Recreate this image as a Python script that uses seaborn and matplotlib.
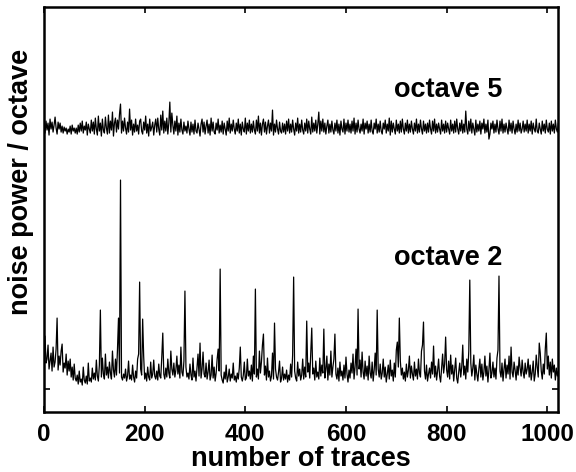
import numpy as np
import pandas as pd
import matplotlib
matplotlib.use("Agg")
import matplotlib.pyplot as plt
import seaborn as sns

# noise power per octave, one value every 2 traces
octave2 = [
    34, 53, 26, 30, 44, 20, 28, 36, 18, 42, 22, 27, 40, 71, 19, 33,
    24, 38, 45, 17, 26, 21, 35, 14, 28, 18, 30, 12, 22, 9, 25, 11,
    8, 14, 5, 18, 7, 10, 4, 22, 9, 6, 13, 5, 26, 8, 11, 7,
    21, 10, 16, 9, 29, 13, 8, 24, 79, 12, 31, 15, 10, 35, 14, 22,
    11, 27, 16, 10, 38, 19, 12, 30, 14, 40, 71, 16, 209, 12, 9, 15,
    11, 20, 8, 13, 28, 10, 14, 9, 24, 12, 7, 18, 11, 30, 35, 107,
    20, 14, 70, 33, 10, 16, 8, 22, 12, 9, 27, 11, 15, 29, 13, 10,
    18, 9, 25, 13, 11, 32, 56, 15, 10, 21, 12, 30, 16, 11, 38, 20,
    14, 26, 12, 19, 33, 15, 24, 11, 42, 17, 13, 28, 98, 22, 12, 16,
    10, 25, 14, 9, 31, 12, 18, 8, 22, 35, 13, 46, 11, 20, 37, 15,
    12, 26, 10, 17, 29, 9, 14, 34, 11, 22, 8, 16, 30, 40, 18, 120,
    14, 9, 6, 17, 10, 24, 7, 12, 20, 8, 15, 11, 26, 9, 13, 7,
    16, 10, 21, 42, 12, 8, 14, 27, 9, 11, 30, 13, 18, 10, 24, 8,
    33, 15, 100, 12, 20, 10, 38, 16, 27, 44, 55, 14, 23, 9, 31, 12,
    18, 8, 13, 36, 10, 66, 20, 12, 9, 17, 28, 7, 11, 22, 9, 15,
    10, 19, 7, 14, 9, 25, 12, 34, 112, 18, 11, 8, 27, 13, 20, 9,
    14, 30, 10, 22, 12, 68, 17, 26, 11, 35, 61, 15, 21, 9, 28, 12,
    17, 10, 31, 13, 24, 16, 60, 11, 20, 33, 9, 25, 14, 38, 12, 22,
    30, 55, 15, 10, 21, 8, 27, 13, 18, 9, 24, 11, 32, 15, 7, 19,
    11, 26, 16, 35, 10, 22, 40, 14, 80, 20, 29, 12, 37, 17, 10, 28,
    13, 23, 9, 33, 16, 11, 27, 8, 19, 36, 14, 79, 20, 12, 25, 10,
    16, 30, 12, 22, 7, 15, 24, 10, 29, 13, 19, 8, 26, 12, 39, 47,
    22, 71, 28, 14, 21, 10, 17, 8, 25, 12, 19, 33, 11, 23, 15, 9,
    27, 13, 20, 10, 30, 16, 12, 38, 44, 67, 18, 10, 24, 8, 15, 21,
    11, 27, 15, 43, 12, 23, 9, 18, 30, 13, 7, 21, 35, 16, 25, 52,
    19, 12, 28, 10, 34, 15, 24, 8, 19, 31, 11, 6, 17, 26, 12, 22,
    44, 14, 23, 10, 30, 17, 38, 109, 26, 13, 21, 34, 9, 24, 15, 8,
    20, 30, 12, 25, 9, 17, 33, 13, 23, 7, 19, 36, 11, 16, 27, 12,
    21, 10, 31, 39, 113, 18, 12, 26, 8, 20, 30, 11, 24, 15, 33, 10,
    42, 17, 12, 27, 19, 9, 23, 14, 32, 21, 13, 29, 17, 11, 26, 15,
    20, 30, 12, 24, 9, 17, 28, 8, 15, 34, 22, 12, 46, 36, 18, 10,
    25, 15, 40, 56, 20, 33, 14, 27, 11, 30, 17, 24, 9, 21, 13, 18,
]

octave5 = [
    263, 256, 268, 259, 266, 254, 270, 260, 267, 257, 264, 272, 261, 255, 267, 260,
    266, 257, 263, 256, 262, 258, 261, 255, 260, 257, 263, 255, 264, 258, 261, 256,
    261, 255, 264, 257, 266, 258, 268, 256, 263, 259, 267, 254, 265, 260, 256, 269,
    258, 267, 255, 271, 260, 254, 273, 258, 266, 253, 270, 259, 256, 272, 261, 255,
    274, 256, 268, 259, 277, 253, 266, 271, 257, 269, 260, 275, 285, 256, 268, 258,
    271, 261, 255, 267, 257, 280, 259, 269, 254, 265, 257, 270, 258, 264, 255, 268,
    270, 258, 255, 267, 259, 273, 256, 265, 253, 270, 258, 262, 267, 254, 264, 270,
    257, 271, 260, 254, 274, 259, 278, 256, 268, 258, 271, 255, 266, 287, 257, 276,
    264, 255, 268, 258, 273, 254, 266, 257, 270, 259, 255, 267, 258, 263, 256, 268,
    260, 254, 267, 257, 265, 255, 269, 258, 256, 266, 260, 253, 265, 270, 257, 267,
    255, 263, 269, 256, 265, 254, 271, 258, 267, 257, 255, 266, 259, 270, 256, 264,
    257, 268, 255, 266, 260, 254, 268, 258, 271, 256, 265, 258, 269, 260, 255, 266,
    258, 270, 256, 265, 254, 267, 260, 257, 271, 255, 266, 258, 269, 256, 265, 257,
    268, 259, 255, 269, 258, 273, 256, 266, 254, 265, 270, 257, 267, 255, 263, 269,
    256, 266, 258, 279, 254, 265, 257, 269, 260, 255, 267, 258, 256, 266, 257, 265,
    255, 268, 258, 270, 256, 265, 257, 269, 260, 254, 266, 258, 271, 256, 265, 257,
    269, 259, 255, 266, 258, 270, 256, 268, 260, 255, 272, 257, 266, 258, 269, 256,
    265, 277, 255, 268, 258, 270, 257, 266, 255, 263, 269, 256, 265, 257, 268, 259,
    255, 266, 258, 269, 256, 265, 254, 268, 260, 257, 270, 255, 266, 258, 269, 257,
    265, 256, 268, 258, 271, 255, 266, 257, 269, 260, 256, 265, 258, 270, 255, 266,
    260, 268, 256, 265, 257, 269, 258, 255, 266, 260, 270, 256, 265, 257, 268, 258,
    255, 266, 260, 269, 256, 265, 258, 271, 254, 268, 257, 266, 260, 255, 269, 258,
    265, 256, 268, 257, 270, 260, 255, 266, 258, 269, 256, 265, 257, 268, 260, 255,
    266, 258, 270, 256, 265, 257, 269, 260, 255, 268, 258, 265, 256, 266, 257, 269,
    260, 255, 268, 258, 270, 256, 265, 257, 266, 260, 255, 269, 258, 265, 256, 268,
    257, 266, 260, 255, 269, 258, 265, 256, 268, 257, 270, 260, 255, 266, 258, 269,
    256, 265, 257, 278, 260, 255, 268, 258, 270, 256, 266, 260, 254, 269, 257, 265,
    258, 268, 255, 266, 260, 270, 256, 265, 257, 269, 250, 255, 266, 260, 268, 256,
    265, 257, 269, 260, 255, 268, 258, 270, 256, 265, 257, 266, 260, 255, 269, 258,
    266, 256, 268, 260, 255, 265, 257, 269, 258, 266, 256, 260, 268, 257, 265, 258,
    269, 256, 265, 258, 268, 255, 266, 260, 257, 270, 258, 256, 266, 260, 255, 268,
    258, 265, 256, 269, 260, 257, 266, 255, 268, 258, 265, 256, 269, 260, 257, 266,
]

xticks = [0, 200, 400, 600, 800, 1000]

traces = np.arange(len(octave2)) * 2
df = pd.DataFrame({"trace": traces, "octave 2": octave2, "octave 5": octave5})

sns.set_style("ticks")
plt.rcParams["font.family"] = ["Liberation Sans", "DejaVu Sans"]
plt.rcParams["font.weight"] = "bold"
plt.rcParams["text.color"] = "black"

fig = plt.figure(figsize=(5.76, 4.72), dpi=100)
ax = fig.add_axes([0.0764, 0.127, 0.893, 0.858])

sns.lineplot(data=df, x="trace", y="octave 5", color="black", lw=0.9, ax=ax)
sns.lineplot(data=df, x="trace", y="octave 2", color="black", lw=0.9, ax=ax)

ax.text(803, 299, "octave 5", ha="center", va="center", fontsize=19.5,
        fontweight="bold", color="black")
ax.text(803, 131, "octave 2", ha="center", va="center", fontsize=19.5,
        fontweight="bold", color="black")

ax.set_xlim(0, 1022)
ax.set_ylim(-23, 382)
ax.set_xticks(xticks)
ax.set_xticklabels([str(t) for t in xticks], fontsize=17.5, fontweight="bold")
ax.set_yticks([0])
ax.set_yticklabels([])
ax.tick_params(direction="in", top=True, right=True, length=4, width=1.2, pad=8,
               color="black", labelcolor="black")
for s in ax.spines.values():
    s.set_linewidth(1.8)
    s.set_color("black")

ax.set_xlabel("number of traces", fontsize=19.5, fontweight="bold", color="black")
ax.xaxis.set_label_coords(0.5, -0.083)
ax.set_ylabel("noise power / octave", fontsize=19.5, fontweight="bold", color="black")
ax.yaxis.set_label_coords(-0.02, 0.568)

fig.savefig("out.png", dpi=100)
